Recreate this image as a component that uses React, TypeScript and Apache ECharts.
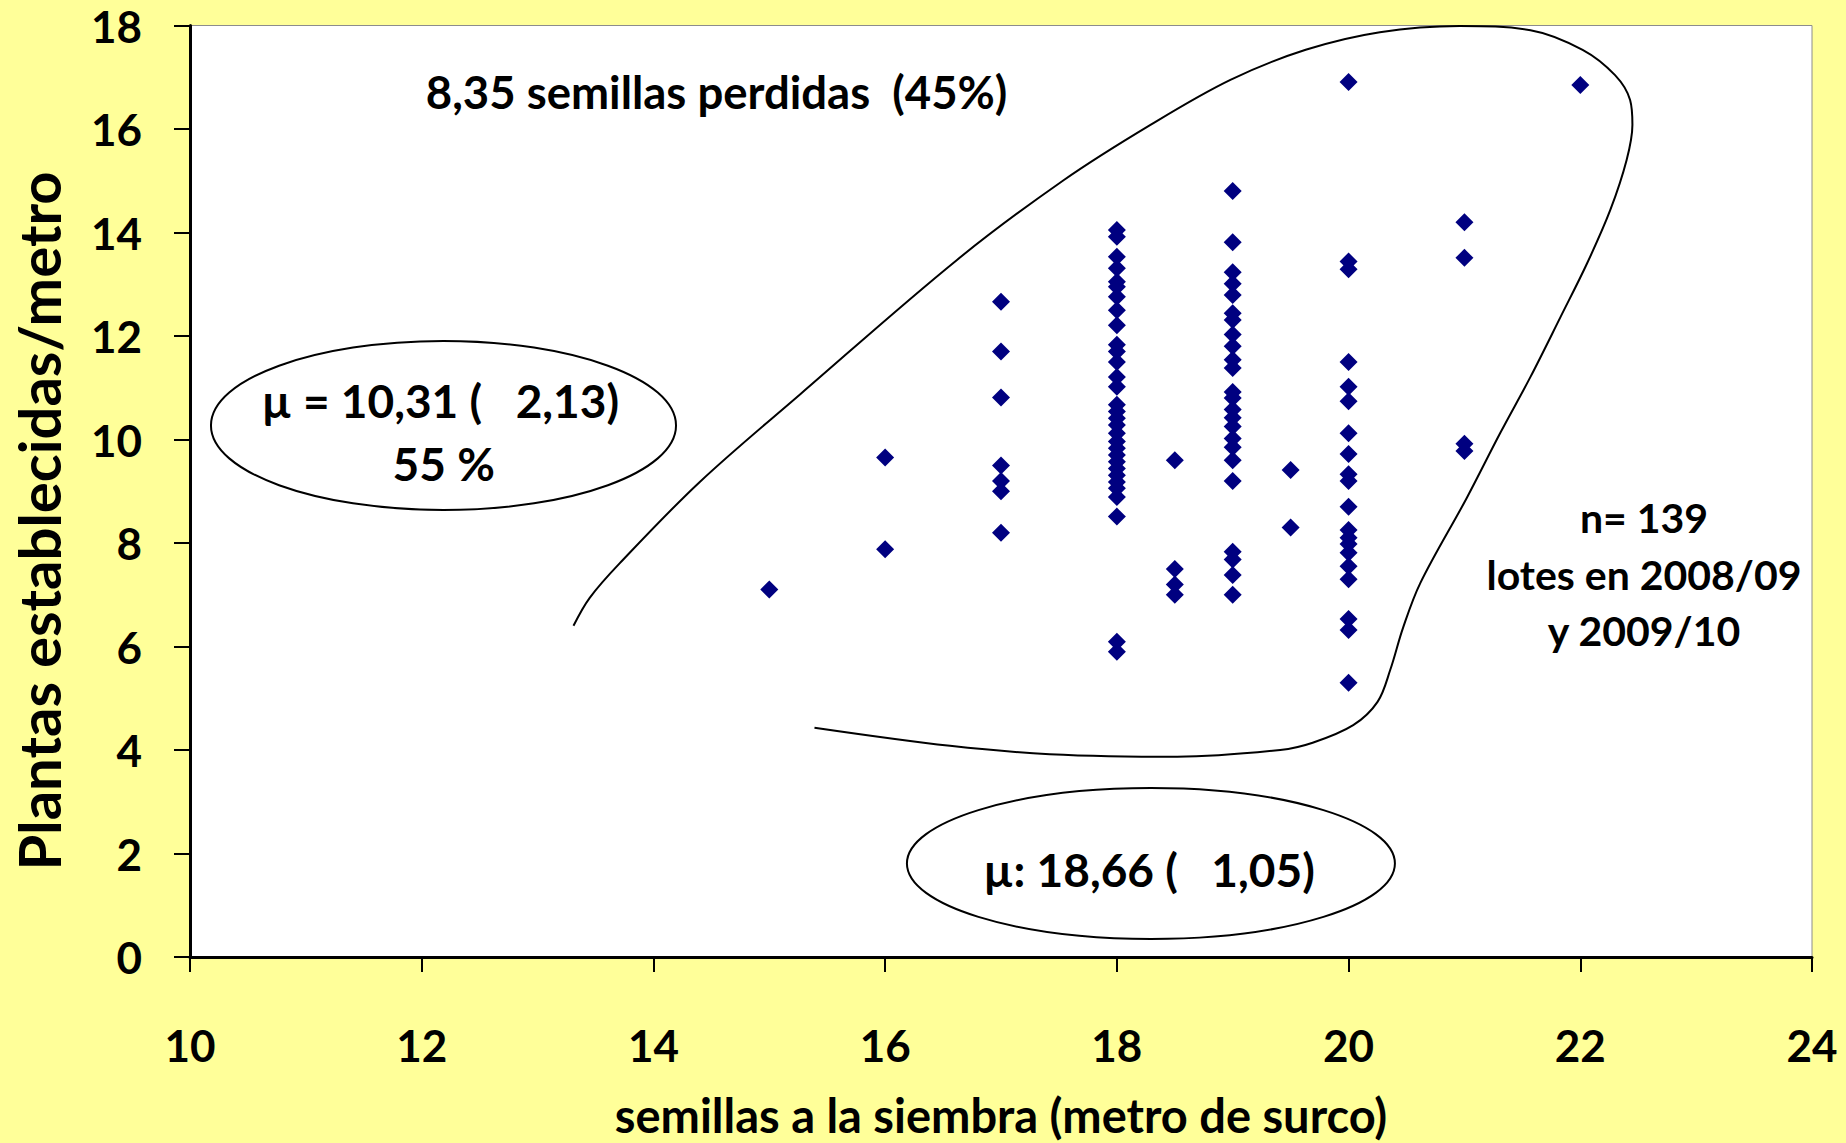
import React, { useEffect, useRef } from "react";
import * as echarts from "echarts";

const FONT = "Lato, 'Open Sans', sans-serif";

// scatter columns (seeds per metre) and the plants/metre values read in each column
const colX = [15, 16, 17, 18, 18.5, 19, 19.5, 20, 21, 22];
const y15 = [7.1];
const y16 = [9.65, 7.88];
const y17 = [12.66, 11.7, 10.81, 9.5, 9.2, 9.0, 8.2];
const y18 = [14.05, 13.92, 13.53, 13.31, 13.05, 12.95, 12.76, 12.5, 12.21, 11.83, 11.7, 11.5, 11.21, 11.02, 10.67, 10.54, 10.41, 10.28, 10.12, 9.96, 9.83, 9.7, 9.57, 9.44, 9.31, 9.18, 9.06, 8.89, 8.51, 6.09, 5.9];
const y18_5 = [9.6, 7.5, 7.2, 7.0];
const y19 = [14.8, 13.81, 13.23, 13.01, 12.79, 12.44, 12.31, 12.03, 11.8, 11.54, 11.38, 10.92, 10.8, 10.58, 10.42, 10.25, 10.02, 9.85, 9.6, 9.2, 7.83, 7.68, 7.38, 7.0];
const y19_5 = [9.41, 8.3];
const y20 = [16.91, 13.44, 13.29, 11.5, 11.02, 10.74, 10.12, 9.72, 9.33, 9.2, 8.7, 8.25, 8.1, 7.98, 7.81, 7.55, 7.3, 6.53, 6.32, 5.3];
const y21 = [14.2, 13.51, 9.92, 9.78];
const y22 = [16.85];
const colY = [y15, y16, y17, y18, y18_5, y19, y19_5, y20, y21, y22];

// hand-drawn enclosing curve (data units)
const curveX = [13.31, 13.45, 13.71, 14.4, 15.27, 16.62, 17.54, 18.29, 18.98, 19.63, 20.27, 20.96, 21.57, 22.02, 22.3, 22.43, 22.45, 22.4, 22.26, 22.06, 21.83, 21.57, 21.31, 21.02, 20.62, 20.47, 20.36, 20.25, 20.04, 19.69, 19.41, 18.52, 17.42, 16.56, 15.39];
const curveY = [6.4, 6.94, 7.61, 9.18, 10.88, 13.47, 15.01, 16.08, 16.95, 17.53, 17.87, 17.99, 17.91, 17.53, 17.04, 16.56, 16.08, 15.4, 14.44, 13.41, 12.37, 11.21, 10.13, 8.87, 7.23, 6.36, 5.55, 4.93, 4.48, 4.14, 4.0, 3.87, 3.92, 4.08, 4.43];

const xTickMin = 10, xTickMax = 24, xStep = 2;
const yTickMin = 0, yTickMax = 18, yStep = 2;

const xTitle = "semillas a la siembra (metro de surco)";
const yTitle = "Plantas establecidas/metro";
const topNote = "8,35 semillas perdidas  (45%)";
const leftNote = ["\u00b5 = 10,31 (   2,13)", "55 %"];
const bottomNote = "\u00b5: 18,66 (   1,05)";
const rightNote = ["n= 139", "lotes en 2008/09", "y 2009/10"];

export default function App() {
  const ref = useRef<HTMLDivElement>(null);
  useEffect(() => {
    const el = ref.current;
    if (!el) return;
    const chart = echarts.init(el, null, { renderer: "svg" });
    const pts: number[][] = [];
    colX.forEach((x, i) => colY[i].forEach((y) => pts.push([x, y])));
    const labelStyle = { color: "#000", fontFamily: FONT, fontWeight: "bold", fontSize: 44 };
    chart.setOption({
      animation: false,
      backgroundColor: "#FFFF99",
      grid: { left: 190, right: 34, top: 25.5, bottom: 181, show: true, backgroundColor: "#ffffff", borderColor: "#8c8c8c", borderWidth: 1 },
      xAxis: {
        type: "value", min: xTickMin, max: xTickMax, interval: xStep,
        axisLine: { onZero: false, lineStyle: { color: "#000", width: 3 } },
        axisTick: { inside: false, length: 15, lineStyle: { color: "#000", width: 2 } },
        splitLine: { show: false },
        axisLabel: { ...labelStyle, margin: 66 },
        name: xTitle, nameLocation: "middle", nameGap: 134,
        nameTextStyle: { ...labelStyle, fontSize: 47 },
      },
      yAxis: {
        type: "value", min: yTickMin, max: yTickMax, interval: yStep,
        axisLine: { onZero: false, lineStyle: { color: "#000", width: 3 } },
        axisTick: { inside: false, length: 16, lineStyle: { color: "#000", width: 2 } },
        splitLine: { show: false },
        axisLabel: { ...labelStyle, margin: 48 },
      },
      series: [
        {
          type: "line", data: curveX.map((x, i) => [x, curveY[i]]), smooth: 0.35, showSymbol: false, clip: false,
          lineStyle: { color: "#000", width: 2 }, silent: true, z: 1,
        },
        {
          type: "scatter", data: pts, symbol: "diamond", symbolSize: 18,
          itemStyle: { color: "#000080", opacity: 1 }, z: 3,
        },
      ],
    });
    const p = (x: number, y: number) => chart.convertToPixel({ xAxisIndex: 0, yAxisIndex: 0 }, [x, y]) as number[];
    const ell = (cx: number, cy: number, rxD: number, ryD: number) => {
      const c = p(cx, cy);
      const rx = p(cx + rxD, cy)[0] - c[0];
      const ry = c[1] - p(cx, cy + ryD)[1];
      return { type: "ellipse", shape: { cx: c[0], cy: c[1], rx, ry }, style: { fill: "none", stroke: "#000", lineWidth: 2 }, z: 5 };
    };
    const txt = (s: string, x: number, y: number, size: number) => {
      const c = p(x, y);
      return {
        type: "text", x: c[0], y: c[1], z: 6,
        style: { text: s, fill: "#000", fontFamily: FONT, fontWeight: "bold", fontSize: size, align: "center", verticalAlign: "middle" },
      };
    };
    chart.setOption({
      graphic: [
        ell(12.188, 10.271, 2.007, 1.633),
        ell(18.294, 1.807, 2.106, 1.459),
        txt(topNote, 14.545, 16.725, 45.5),
        txt(leftNote[0], 12.16, 10.76, 46),
        txt(leftNote[1], 12.19, 9.527, 46),
        txt(bottomNote, 18.277, 1.7, 46),
        txt(rightNote[0], 22.55, 8.5, 41),
        txt(rightNote[1], 22.55, 7.4, 41),
        txt(rightNote[2], 22.55, 6.31, 41),
        {
          type: "text", x: 38, y: 521, rotation: Math.PI / 2, z: 6,
          style: { text: yTitle, fill: "#000", fontFamily: FONT, fontWeight: "bold", fontSize: 58, align: "center", verticalAlign: "middle" },
        },
      ],
    });
    return () => chart.dispose();
  }, []);
  return <div ref={ref} style={{ position: "fixed", left: 0, top: 0, width: 1846, height: 1143 }} />;
}
